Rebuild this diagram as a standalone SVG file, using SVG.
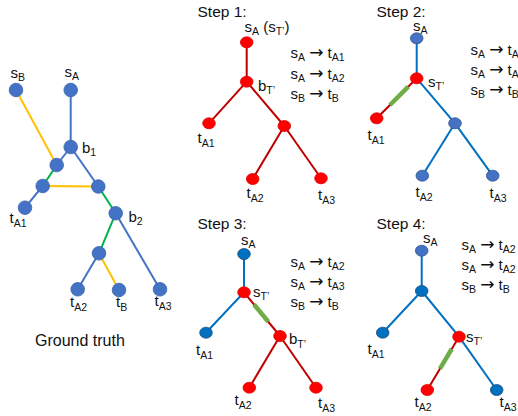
<svg xmlns="http://www.w3.org/2000/svg" width="518" height="416" viewBox="0 0 518 416">
  <style>
    text { font-family: "Liberation Sans", Arial, sans-serif; font-size: 15px; fill: #111; }
    .sub { font-size: 10.5px; }
    .arr { font-family: "DejaVu Sans", sans-serif; font-size: 17px; }
    .title { font-size: 15.5px; }
    .cap { font-size: 16px; }
    .e { fill: none; stroke-width: 2; }
    .gb { stroke: #4472C4; }
    .gy { stroke: #FFC000; }
    .gg { stroke: #00B050; }
    .rb { stroke: #0070C0; }
    .rr { stroke: #C00000; }
    .hl { stroke: #70AD47; stroke-width: 4.5; }
    .gn { fill: #4472C4; stroke: #3A64AE; stroke-width: 0.8; }
    .bn { fill: #0070C0; stroke: #1F4E79; stroke-width: 0.8; }
    .bn2 { fill: #4472C4; stroke: #2F528F; stroke-width: 0.8; }
    .rn { fill: #FF0000; stroke: #E00000; stroke-width: 0.8; }
  </style>

  <!-- ===== Ground truth tree ===== -->
  <g id="gt-connectors">
    <line class="e gb" x1="70.7" y1="90" x2="70.7" y2="147"/>
    <line class="e gy" x1="16" y1="90" x2="56.7" y2="165"/>
    <line class="e gb" x1="70.7" y1="147" x2="56.7" y2="165"/>
    <line class="e gg" x1="56.7" y1="165" x2="42.7" y2="186"/>
    <line class="e gb" x1="42.7" y1="186" x2="25" y2="207.7"/>
    <line class="e gy" x1="42.7" y1="186" x2="98.3" y2="186.5"/>
    <line class="e gb" x1="70.7" y1="147" x2="98.3" y2="186.5"/>
    <line class="e gg" x1="98.3" y1="186.5" x2="115.7" y2="213.3"/>
    <line class="e gg" x1="115.7" y1="213.3" x2="99" y2="253.3"/>
    <line class="e gb" x1="115.7" y1="213.3" x2="160" y2="289.3"/>
    <line class="e gb" x1="99" y1="253.3" x2="77.7" y2="289.3"/>
    <line class="e gy" x1="99" y1="253.3" x2="119" y2="290"/>
  </g>
  <g id="gt-sB"><circle class="gn" cx="16" cy="90" r="6.8"/><text x="10.5" y="78.3">s<tspan class="sub" dy="3">B</tspan></text></g>
  <g id="gt-sA"><circle class="gn" cx="70.7" cy="90" r="6.8"/><text x="64.5" y="76.7">s<tspan class="sub" dy="3">A</tspan></text></g>
  <g id="gt-b1"><circle class="gn" cx="70.7" cy="147" r="6.8"/><text x="82" y="153.3">b<tspan class="sub" dy="3">1</tspan></text></g>
  <g id="gt-u1"><circle class="gn" cx="56.7" cy="165" r="6.8"/></g>
  <g id="gt-u2"><circle class="gn" cx="42.7" cy="186" r="6.8"/></g>
  <g id="gt-u3"><circle class="gn" cx="98.3" cy="186.5" r="6.8"/></g>
  <g id="gt-tA1"><circle class="gn" cx="25" cy="207.7" r="6.8"/><text x="9.5" y="223.3">t<tspan class="sub" dy="4">A1</tspan></text></g>
  <g id="gt-b2"><circle class="gn" cx="115.7" cy="213.3" r="6.8"/><text x="128.5" y="221.7">b<tspan class="sub" dy="3">2</tspan></text></g>
  <g id="gt-u4"><circle class="gn" cx="99" cy="253.3" r="6.8"/></g>
  <g id="gt-tA2"><circle class="gn" cx="77.7" cy="289.3" r="6.8"/><text x="70" y="306.5">t<tspan class="sub" dy="4">A2</tspan></text></g>
  <g id="gt-tB"><circle class="gn" cx="119" cy="290" r="6.8"/><text x="116" y="306.5">t<tspan class="sub" dy="4">B</tspan></text></g>
  <g id="gt-tA3"><circle class="gn" cx="160" cy="289.3" r="6.8"/><text x="154.5" y="305.5">t<tspan class="sub" dy="4">A3</tspan></text></g>
  <text class="cap" x="35" y="345.5">Ground truth</text>

  <!-- ===== Step 1 ===== -->
  <text class="title" x="197.5" y="17">Step 1:</text>
  <g id="s1-connectors">
    <line class="e rr" x1="246.7" y1="42.3" x2="246.7" y2="81.7"/>
    <line class="e rr" x1="246.7" y1="81.7" x2="209" y2="123.3"/>
    <line class="e rr" x1="246.7" y1="81.7" x2="284.3" y2="126"/>
    <line class="e rr" x1="284.3" y1="126" x2="252.7" y2="179"/>
    <line class="e rr" x1="284.3" y1="126" x2="321" y2="178.3"/>
  </g>
  <g id="s1-sA"><ellipse class="rn" cx="246.7" cy="42.3" rx="6.3" ry="5.5"/><text x="244.5" y="31.7">s<tspan class="sub" dy="3">A</tspan><tspan dy="-3"> (s</tspan><tspan class="sub" dy="3">T’</tspan><tspan dy="-3">)</tspan></text></g>
  <g id="s1-b"><ellipse class="rn" cx="246.7" cy="81.7" rx="6.3" ry="5.5"/><text x="258" y="90.7">b<tspan class="sub" dy="3.5">T’</tspan></text></g>
  <g id="s1-tA1"><ellipse class="rn" cx="209" cy="123.3" rx="6.3" ry="5.5"/><text x="197.5" y="142.7">t<tspan class="sub" dy="4">A1</tspan></text></g>
  <g id="s1-m"><ellipse class="rn" cx="284.3" cy="126" rx="6.3" ry="5.5"/></g>
  <g id="s1-tA2"><ellipse class="rn" cx="252.7" cy="179" rx="6.3" ry="5.5"/><text x="246.5" y="198.3">t<tspan class="sub" dy="4">A2</tspan></text></g>
  <g id="s1-tA3"><ellipse class="rn" cx="321" cy="178.3" rx="6.3" ry="5.5"/><text x="318" y="200">t<tspan class="sub" dy="4">A3</tspan></text></g>
  <g id="s1-rules">
    <text x="290.5" y="57.5">s<tspan class="sub" dy="3">A</tspan><tspan dy="-3"> </tspan><tspan class="arr">→</tspan> t<tspan class="sub" dy="3">A1</tspan></text>
    <text x="290.5" y="78.5">s<tspan class="sub" dy="3">A</tspan><tspan dy="-3"> </tspan><tspan class="arr">→</tspan> t<tspan class="sub" dy="3">A2</tspan></text>
    <text x="290.5" y="99">s<tspan class="sub" dy="3">B</tspan><tspan dy="-3"> </tspan><tspan class="arr">→</tspan> t<tspan class="sub" dy="3">B</tspan></text>
  </g>

  <!-- ===== Step 2 ===== -->
  <text class="title" x="376.5" y="17">Step 2:</text>
  <g id="s2-connectors">
    <line class="e rb" x1="416.7" y1="38.3" x2="416.7" y2="78.3"/>
    <line class="e rr" x1="416.7" y1="78.3" x2="376.7" y2="118.3"/>
    <line class="e hl" x1="408.3" y1="86.7" x2="390" y2="105"/>
    <line class="e rb" x1="416.7" y1="78.3" x2="455" y2="123.3"/>
    <line class="e rb" x1="455" y1="123.3" x2="422.3" y2="175.7"/>
    <line class="e rb" x1="455" y1="123.3" x2="492.7" y2="175.7"/>
  </g>
  <g id="s2-sA"><ellipse class="bn2" cx="416.7" cy="38.3" rx="6.3" ry="5.5"/><text x="413" y="30.5">s<tspan class="sub" dy="3">A</tspan></text></g>
  <g id="s2-sT"><ellipse class="rn" cx="416.7" cy="78.3" rx="6.3" ry="5.5"/><text x="428" y="86.7">s<tspan class="sub" dy="3.5">T’</tspan></text></g>
  <g id="s2-tA1"><ellipse class="rn" cx="376.7" cy="118.3" rx="6.3" ry="5.5"/><text x="367.5" y="140">t<tspan class="sub" dy="4">A1</tspan></text></g>
  <g id="s2-m"><ellipse class="bn2" cx="455" cy="123.3" rx="6.3" ry="5.5"/></g>
  <g id="s2-tA2"><ellipse class="bn2" cx="422.3" cy="175.7" rx="6.3" ry="5.5"/><text x="415.5" y="196.7">t<tspan class="sub" dy="4">A2</tspan></text></g>
  <g id="s2-tA3"><ellipse class="bn2" cx="492.7" cy="175.7" rx="6.3" ry="5.5"/><text x="489.5" y="198">t<tspan class="sub" dy="4">A3</tspan></text></g>
  <g id="s2-rules">
    <text x="470.5" y="55">s<tspan class="sub" dy="3">A</tspan><tspan dy="-3"> </tspan><tspan class="arr">→</tspan> t<tspan class="sub" dy="3">A</tspan></text>
    <text x="470.5" y="75">s<tspan class="sub" dy="3">A</tspan><tspan dy="-3"> </tspan><tspan class="arr">→</tspan> t<tspan class="sub" dy="3">A</tspan></text>
    <text x="470.5" y="95">s<tspan class="sub" dy="3">B</tspan><tspan dy="-3"> </tspan><tspan class="arr">→</tspan> t<tspan class="sub" dy="3">B</tspan></text>
  </g>

  <!-- ===== Step 3 ===== -->
  <text class="title" x="197.5" y="228.5">Step 3:</text>
  <g id="s3-connectors">
    <line class="e rb" x1="244" y1="254" x2="244" y2="292.3"/>
    <line class="e rb" x1="244" y1="292.3" x2="206" y2="332.7"/>
    <line class="e rr" x1="244" y1="292.3" x2="280" y2="336"/>
    <line class="e hl" x1="254" y1="304.5" x2="268.3" y2="321.8"/>
    <line class="e rr" x1="280" y1="336" x2="249.3" y2="387.7"/>
    <line class="e rr" x1="280" y1="336" x2="316" y2="387.7"/>
  </g>
  <g id="s3-sA"><ellipse class="bn" cx="244" cy="254" rx="6.3" ry="5.5"/><text x="241" y="245">s<tspan class="sub" dy="3">A</tspan></text></g>
  <g id="s3-sT"><ellipse class="rn" cx="244" cy="292.3" rx="6.3" ry="5.5"/><text x="253" y="296.7">s<tspan class="sub" dy="3.5">T’</tspan></text></g>
  <g id="s3-tA1"><ellipse class="bn" cx="206" cy="332.7" rx="6.3" ry="5.5"/><text x="196" y="355">t<tspan class="sub" dy="4">A1</tspan></text></g>
  <g id="s3-bT"><ellipse class="rn" cx="280" cy="336" rx="6.3" ry="5.5"/><text x="289" y="344.3">b<tspan class="sub" dy="3.5">T’</tspan></text></g>
  <g id="s3-tA2"><ellipse class="rn" cx="249.3" cy="387.7" rx="6.3" ry="5.5"/><text x="234.5" y="405">t<tspan class="sub" dy="4">A2</tspan></text></g>
  <g id="s3-tA3"><ellipse class="rn" cx="316" cy="387.7" rx="6.3" ry="5.5"/><text x="318" y="408">t<tspan class="sub" dy="4">A3</tspan></text></g>
  <g id="s3-rules">
    <text x="290.5" y="266.5">s<tspan class="sub" dy="3">A</tspan><tspan dy="-3"> </tspan><tspan class="arr">→</tspan> t<tspan class="sub" dy="3">A2</tspan></text>
    <text x="290.5" y="286.5">s<tspan class="sub" dy="3">A</tspan><tspan dy="-3"> </tspan><tspan class="arr">→</tspan> t<tspan class="sub" dy="3">A3</tspan></text>
    <text x="290.5" y="306.5">s<tspan class="sub" dy="3">B</tspan><tspan dy="-3"> </tspan><tspan class="arr">→</tspan> t<tspan class="sub" dy="3">B</tspan></text>
  </g>

  <!-- ===== Step 4 ===== -->
  <text class="title" x="376.5" y="228.5">Step 4:</text>
  <g id="s4-connectors">
    <line class="e rb" x1="421.7" y1="250.7" x2="421.7" y2="291"/>
    <line class="e rb" x1="421.7" y1="291" x2="382.7" y2="332.7"/>
    <line class="e rb" x1="421.7" y1="291" x2="459" y2="336.7"/>
    <line class="e rb" x1="459" y1="336.7" x2="496.7" y2="390"/>
    <line class="e rr" x1="459" y1="336.7" x2="427.3" y2="390"/>
    <line class="e hl" x1="451.7" y1="349" x2="440" y2="368.7"/>
  </g>
  <g id="s4-sA"><ellipse class="bn2" cx="421.7" cy="250.7" rx="6.3" ry="5.5"/><text x="423" y="243">s<tspan class="sub" dy="3">A</tspan></text></g>
  <g id="s4-m"><ellipse class="bn" cx="421.7" cy="291" rx="6.3" ry="5.5"/></g>
  <g id="s4-tA1"><ellipse class="bn" cx="382.7" cy="332.7" rx="6.3" ry="5.5"/><text x="367.5" y="354">t<tspan class="sub" dy="4">A1</tspan></text></g>
  <g id="s4-sT"><ellipse class="rn" cx="459" cy="336.7" rx="6.3" ry="5.5"/><text x="466" y="341.7">s<tspan class="sub" dy="3.5">T’</tspan></text></g>
  <g id="s4-tA2"><ellipse class="rn" cx="427.3" cy="390" rx="6.3" ry="5.5"/><text x="414.5" y="406.7">t<tspan class="sub" dy="4">A2</tspan></text></g>
  <g id="s4-tA3"><ellipse class="bn" cx="496.7" cy="390" rx="6.3" ry="5.5"/><text x="499.5" y="407">t<tspan class="sub" dy="4">A3</tspan></text></g>
  <g id="s4-rules">
    <text x="461.5" y="250">s<tspan class="sub" dy="3">A</tspan><tspan dy="-3"> </tspan><tspan class="arr">→</tspan> t<tspan class="sub" dy="3">A2</tspan></text>
    <text x="461.5" y="270">s<tspan class="sub" dy="3">A</tspan><tspan dy="-3"> </tspan><tspan class="arr">→</tspan> t<tspan class="sub" dy="3">A2</tspan></text>
    <text x="461.5" y="290">s<tspan class="sub" dy="3">B</tspan><tspan dy="-3"> </tspan><tspan class="arr">→</tspan> t<tspan class="sub" dy="3">B</tspan></text>
  </g>
</svg>
